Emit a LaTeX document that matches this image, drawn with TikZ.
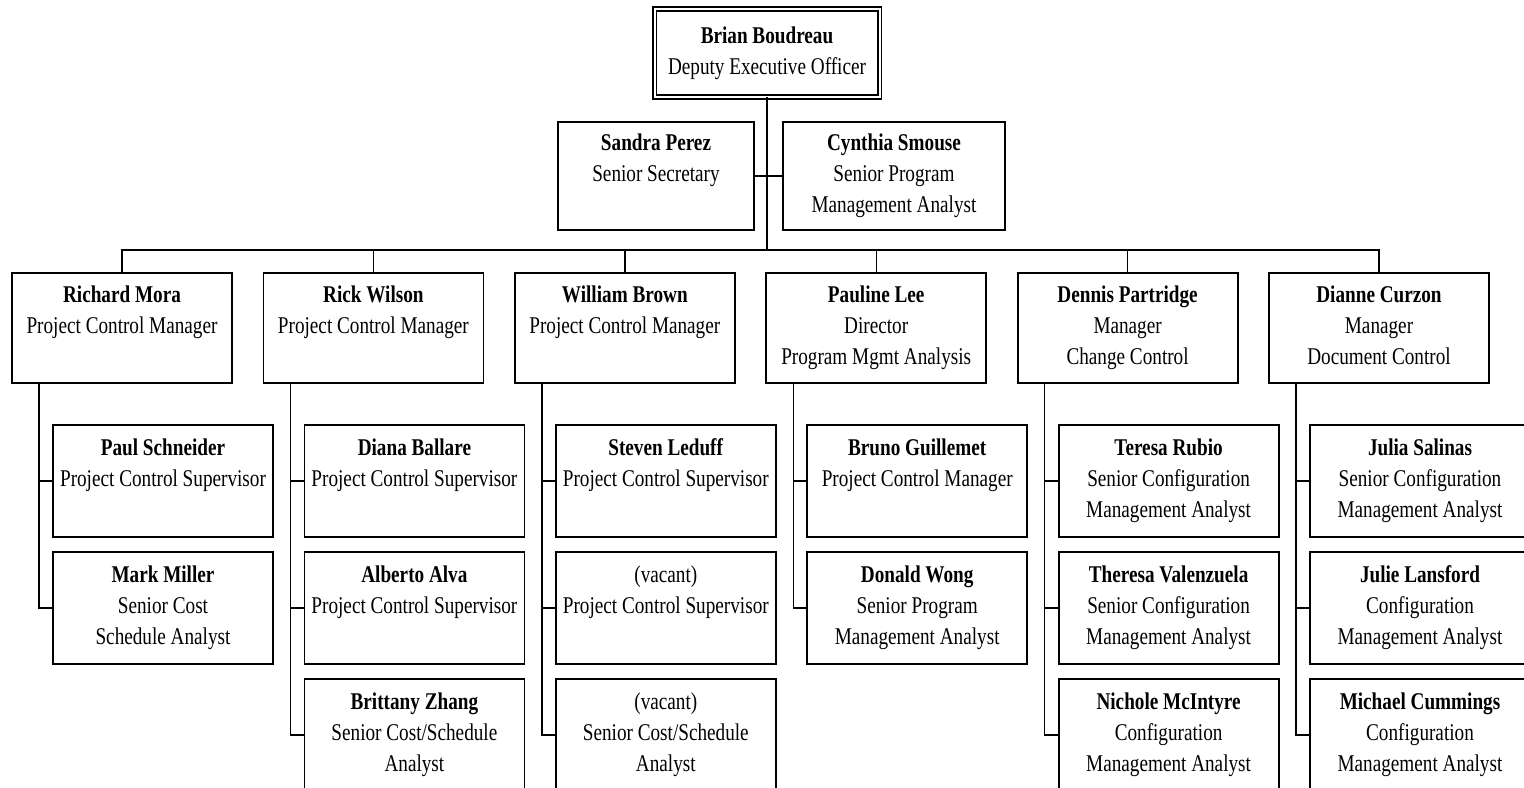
\documentclass[tikz,border=0pt]{standalone}
\usepackage{fontspec}
\setmainfont[FakeStretch=0.8]{Liberation Serif}
\usetikzlibrary{positioning}

\newcommand\orgstrut{\rule[-2.65pt]{0pt}{15.5pt}}

\begin{document}
\begin{tikzpicture}[
    x=0.5pt, y=-0.5pt,
    node distance=7.5pt and 15.7pt,
    person/.style={
        rectangle,
        draw,
        line width=0.9pt,
        align=center,
        inner sep=0pt,
        outer sep=0pt,
        font=\fontsize{12pt}{15.5pt}\selectfont,
        execute at begin node=\orgstrut,
        execute at end node=\orgstrut
    },
    head/.style={person, double, line width=0.8pt, double distance=1pt, minimum width=112.5pt, minimum height=44pt},
    staff/.style={person, minimum height=54pt},
    manager/.style={person, minimum width=110pt, minimum height=55pt},
    member/.style={person, minimum width=110pt, minimum height=56pt},
    link/.style={line width=0.7pt}
]
    \useasboundingbox (0,0) rectangle (1524,787);
    \clip (0,0) rectangle (1524,787);

    \node[head] (brian) at (767,53) {\textbf{Brian Boudreau}\\Deputy Executive Officer};
    \node[staff, minimum width=98pt] (sandra) at (656,176) {\textbf{Sandra Perez}\\Senior Secretary\\~};
    \node[staff, minimum width=111pt] (cynthia) at (894,176) {\textbf{Cynthia Smouse}\\Senior Program\\Management Analyst};

    \node[manager] (richard) at (122,328) {\textbf{Richard Mora}\\Project Control Manager\\~};
    \node[manager, right=of richard] (rick) {\textbf{Rick Wilson}\\Project Control Manager\\~};
    \node[manager, right=of rick] (william) {\textbf{William Brown}\\Project Control Manager\\~};
    \node[manager, right=of william] (pauline) {\textbf{Pauline Lee}\\Director\\Program Mgmt Analysis};
    \node[manager, right=of pauline] (dennis) {\textbf{Dennis Partridge}\\Manager\\Change Control};
    \node[manager, right=of dennis] (dianne) {\textbf{Dianne Curzon}\\Manager\\Document Control};

    \node[member] (paul) at (163,481) {\textbf{Paul Schneider}\\Project Control Supervisor\\~};
    \node[member, right=of paul] (diana) {\textbf{Diana Ballare}\\Project Control Supervisor\\~};
    \node[member, right=of diana] (steven) {\textbf{Steven Leduff}\\Project Control Supervisor\\~};
    \node[member, right=of steven] (bruno) {\textbf{Bruno Guillemet}\\Project Control Manager\\~};
    \node[member, right=of bruno] (teresa) {\textbf{Teresa Rubio}\\Senior Configuration\\Management Analyst};
    \node[member, right=of teresa] (julia) {\textbf{Julia Salinas}\\Senior Configuration\\Management Analyst};

    \node[member, below=of paul] (mark) {\textbf{Mark Miller}\\Senior Cost\\Schedule Analyst};
    \node[member, below=of diana] (alberto) {\textbf{Alberto Alva}\\Project Control Supervisor\\~};
    \node[member, below=of steven] (vacantA) {(vacant)\\Project Control Supervisor\\~};
    \node[member, below=of bruno] (donald) {\textbf{Donald Wong}\\Senior Program\\Management Analyst};
    \node[member, below=of teresa] (theresa) {\textbf{Theresa Valenzuela}\\Senior Configuration\\Management Analyst};
    \node[member, below=of julia] (julie) {\textbf{Julie Lansford}\\Configuration\\Management Analyst};

    \node[member, below=of alberto] (brittany) {\textbf{Brittany Zhang}\\Senior Cost/Schedule\\Analyst};
    \node[member, below=of vacantA] (vacantB) {(vacant)\\Senior Cost/Schedule\\Analyst};
    \node[member, below=of theresa] (nichole) {\textbf{Nichole McIntyre}\\Configuration\\Management Analyst};
    \node[member, below=of julie] (michael) {\textbf{Michael Cummings}\\Configuration\\Management Analyst};

    \coordinate (bus) at (767,250);
    \draw[link] (brian) -- (bus);
    \draw[link] (sandra) -- (cynthia);
    \draw[link] (richard.north) |- (bus) -| (dianne.north);
    \draw[link] (rick.north) -- (rick.north |- bus);
    \draw[link] (william.north) -- (william.north |- bus);
    \draw[link] (pauline.north) -- (pauline.north |- bus);
    \draw[link] (dennis.north) -- (dennis.north |- bus);

    \draw[link] ([xshift=13.5pt]richard.south west) |- (paul.west);
    \draw[link] ([xshift=13.5pt]richard.south west) |- (mark.west);
    \draw[link] ([xshift=13.5pt]rick.south west) |- (diana.west);
    \draw[link] ([xshift=13.5pt]rick.south west) |- (alberto.west);
    \draw[link] ([xshift=13.5pt]rick.south west) |- (brittany.west);
    \draw[link] ([xshift=13.5pt]william.south west) |- (steven.west);
    \draw[link] ([xshift=13.5pt]william.south west) |- (vacantA.west);
    \draw[link] ([xshift=13.5pt]william.south west) |- (vacantB.west);
    \draw[link] ([xshift=13.5pt]pauline.south west) |- (bruno.west);
    \draw[link] ([xshift=13.5pt]pauline.south west) |- (donald.west);
    \draw[link] ([xshift=13.5pt]dennis.south west) |- (teresa.west);
    \draw[link] ([xshift=13.5pt]dennis.south west) |- (theresa.west);
    \draw[link] ([xshift=13.5pt]dennis.south west) |- (nichole.west);
    \draw[link] ([xshift=13.5pt]dianne.south west) |- (julia.west);
    \draw[link] ([xshift=13.5pt]dianne.south west) |- (julie.west);
    \draw[link] ([xshift=13.5pt]dianne.south west) |- (michael.west);
\end{tikzpicture}
\end{document}
